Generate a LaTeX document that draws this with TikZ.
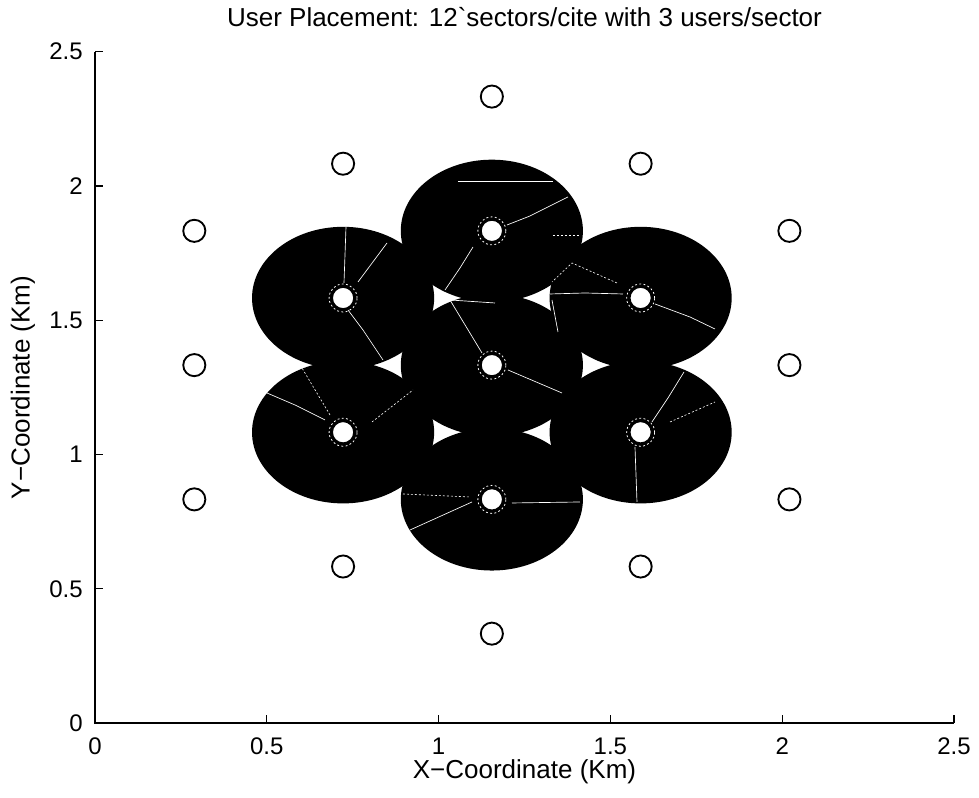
\documentclass[tikz,border=0pt]{standalone}
\usepackage{fontspec}
\setmainfont{Liberation Sans}
\tikzset{
  cover/.style={fill=black},
  site/.style={draw=black, fill=white, line width=1.4pt},
  ring/.style={draw=white, line width=0.6pt, dash pattern=on 1.4pt off 1.8pt},
  seam/.style={draw=white, line width=0.5pt},
  faint/.style={draw=white, line width=0.45pt, dash pattern=on 1.5pt off 1.5pt},
  axisline/.style={line width=0.9pt},
  ticklabel/.style={font=\fontsize{18}{20}\selectfont, inner sep=0pt},
  axislabel/.style={font=\fontsize{19.5}{22}\selectfont, inner sep=0pt}
}

\begin{document}
\begin{tikzpicture}[x=257.7pt, y=201.4pt]
    \useasboundingbox (-0.2765,-0.2756) rectangle (2.5728,2.6927);
    % Coverage of the seven serving sites
    \foreach \sx/\sy in {1.155/1.333, 1.155/1.833, 1.155/0.833, 0.722/1.583,
                         0.722/1.083, 1.588/1.583, 1.588/1.083}
        \fill [cover] (\sx,\sy) circle [radius=0.265];
    % Sector seams (pixel grid)
    \begin{scope}[shift={(-0.2765,2.6927)}, x=0.75pt, y=-0.75pt]
        \draw [seam] (507,225) -- (530,216) -- (568,197);
        \draw [seam] (473,247) -- (460,268) -- (445,290);
        \draw [seam] (458,181) -- (553,181);
        \draw [faint] (553,235) -- (580,235);
        \draw [seam] (344,283) -- (345,255) -- (346,227);
        \draw [seam] (358,282) -- (387,243);
        \draw [seam] (348,310) -- (363,330) -- (383,360);
        \draw [seam] (623,294) -- (585,293) -- (550,294);
        \draw [seam] (655,304) -- (690,317) -- (715,329);
        \draw [faint] (617,283) -- (572,263) -- (552,282);
        \draw [seam] (552,300) -- (558,332);
        \draw [seam] (325,420) -- (295,405) -- (267,393);
        \draw [faint] (330,415) -- (302,368);
        \draw [faint] (372,422) -- (413,390);
        \draw [seam] (652,422) -- (668,398) -- (684,372);
        \draw [seam] (635,447) -- (637,502);
        \draw [faint] (670,422) -- (715,402);
        \draw [seam] (482,353) -- (450,300) -- (495,303);
        \draw [seam] (508,370) -- (562,393);
        \draw [seam] (472,502) -- (410,530);
        \draw [seam] (512,503) -- (580,502);
        \draw [faint] (403,494) -- (470,497);
    \end{scope}
    % Fringe round the serving sites
    \foreach \sx/\sy in {1.155/1.333, 1.155/1.833, 1.155/0.833, 0.722/1.583,
                         0.722/1.083, 1.588/1.583, 1.588/1.083}
        \draw [ring] (\sx,\sy) circle [radius=10.5pt];
    % Site markers
    \foreach \sx/\sy in {1.155/1.333, 1.155/1.833, 1.155/0.833, 0.722/1.583,
                         0.722/1.083, 1.588/1.583, 1.588/1.083,
                         1.155/2.333, 1.155/0.333, 0.722/2.083, 1.588/2.083,
                         0.722/0.583, 1.588/0.583, 0.289/1.833, 0.289/1.333,
                         0.289/0.833, 2.021/1.833, 2.021/1.333, 2.021/0.833}
        \draw [site] (\sx,\sy) circle [radius=8.3pt];
    % Axes and ticks
    \draw [axisline] (0,2.5) -- (0,0) -- (2.5,0);
    \foreach \t [count=\i] in {0,0.5,1,1.5,2,2.5} {
        \draw [axisline] (\t,0) -- ++(0,6pt);
        \draw [axisline] (0,\t) -- ++(6pt,0);
        \node [ticklabel, anchor=north] (xtick\i) at ([yshift=-11pt]\t,0) {\t};
        \node [ticklabel, anchor=east] (ytick\i) at ([xshift=-9pt]0,\t) {\t};
    }
    % Labels
    \node [axislabel] (xlabel) at (1.25,-0.182) {X−Coordinate (Km)};
    \node [axislabel, rotate=90] (ylabel) at (-0.21,1.25) {Y−Coordinate (Km)};
    \node [font=\fontsize{19.5}{22}\selectfont, inner sep=0pt, anchor=base] (title)
        at ([yshift=-27*0.75pt]1.25,2.6927) {User Placement: 12\textasciigrave sectors/cite with 3 users/sector};
\end{tikzpicture}
\end{document}
